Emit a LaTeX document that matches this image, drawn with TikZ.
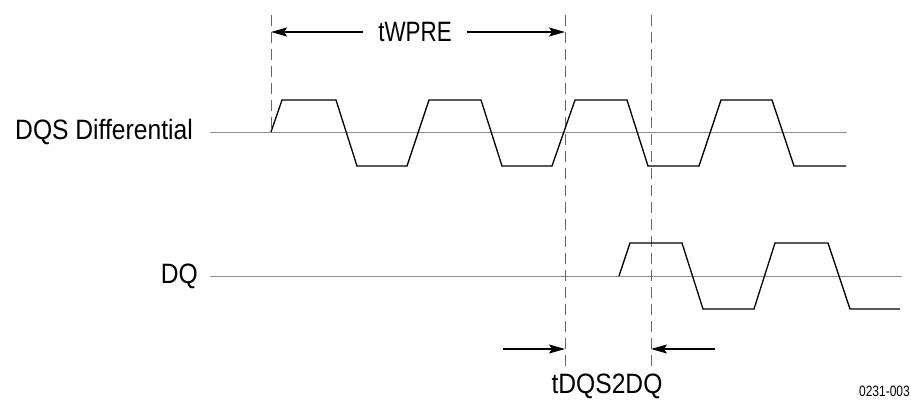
\documentclass[tikz,border=0pt]{standalone}
\usepackage{fontspec}
\setmainfont[FakeStretch=0.88]{Liberation Sans}
\newfontfamily\narrowfont[FakeStretch=0.8]{Liberation Sans}
\usetikzlibrary{arrows.meta}
\begin{document}
\begin{tikzpicture}[x=1pt,y=-1pt,
  wave/.style={line width=1.3pt,black,line join=miter},
  base/.style={line width=1pt,black!45},
  guide/.style={line width=1pt,black!60,dash pattern=on 11pt off 6pt},
  dimarrow/.style={line width=1.1pt,-{Stealth[length=16pt,width=9pt,inset=3pt]}},
  lbl/.style={font=\fontsize{28}{31}\selectfont,inner sep=0pt},
  dimlbl/.style={font=\narrowfont\fontsize{28}{31}\selectfont,inner sep=0pt,inner xsep=15pt}]
\useasboundingbox (0,0) rectangle (911,400);
% labels
\node[lbl,anchor=east] (dqs) at (193,132) {DQS Differential};
\node[lbl,anchor=east] (dq) at (198,276) {DQ};
% baselines
\coordinate (dqsA) at (210,132);
\coordinate (dqsB) at (847,132);
\coordinate (dqA) at (210,276);
\coordinate (dqB) at (902,276);
\draw[base] (dqsA) -- (dqsB);
\draw[base] (dqA) -- (dqB);
% guides
\coordinate (g1t) at (271,15); \coordinate (g1b) at (271,131);
\coordinate (g2t) at (565,15); \coordinate (g2b) at (565,366);
\coordinate (g3t) at (651,15); \coordinate (g3b) at (651,366);
\draw[guide] (g1t) -- (g1b);
\draw[guide] (g2t) -- (g2b);
\draw[guide] (g3t) -- (g3b);
% DQS waveform
\draw[wave] (271,132) -- (282,100) -- (336,100) -- (357,166) -- (407,166)
  -- (429,100) -- (481,100) -- (502,166) -- (552,166)
  -- (575,100) -- (627,100) -- (648,166) -- (699,166)
  -- (721,100) -- (772,100) -- (794,166) -- (846,166);
% DQ waveform
\draw[wave] (619,276) -- (630,243) -- (682,243) -- (703,309) -- (754,309)
  -- (775,243) -- (828,243) -- (850,309) -- (900,309);
% tWPRE
\node[dimlbl] (twpre) at (415,32) {tWPRE};
\coordinate (twl) at (271,32);
\coordinate (twr) at (565,32);
\draw[dimarrow] (twpre.west) -- (twl);
\draw[dimarrow] (twpre.east) -- (twr);
% tDQS2DQ
\coordinate (ta1) at (503,349); \coordinate (ta2) at (565,349);
\coordinate (tb1) at (715,349); \coordinate (tb2) at (651,349);
\draw[dimarrow] (ta1) -- (ta2);
\draw[dimarrow] (tb1) -- (tb2);
\node[lbl] (tdqs) at (607,386) {tDQS2DQ};
\node[font=\narrowfont\fontsize{15}{17}\selectfont,inner sep=0pt,anchor=east] (code) at (910,391) {0231-003};
\end{tikzpicture}
\end{document}
